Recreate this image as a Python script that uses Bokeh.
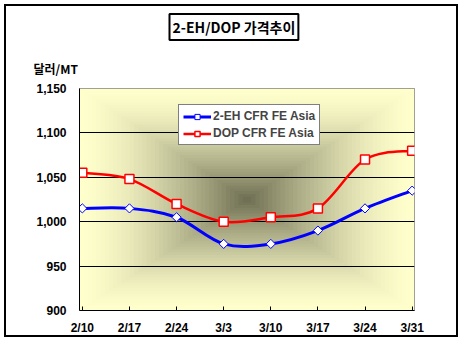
import numpy as np
from bokeh.plotting import figure
from bokeh.models import (Range1d, FixedTicker, NumeralTickFormatter, Title,
                          Legend, LegendItem, ColumnDataSource)
from bokeh.embed import file_html
from bokeh.resources import INLINE

# ---- data ----
categories = ["2/10", "2/17", "2/24", "3/3", "3/10", "3/17", "3/24", "3/31"]
eh_values = [1015, 1015, 1005, 975, 975, 990, 1015, 1035]
dop_values = [1055, 1048, 1020, 1000, 1005, 1015, 1070, 1080]
y_ticks = [900, 950, 1000, 1050, 1100, 1150]
series_names = ["2-EH CFR FE Asia", "DOP CFR FE Asia"]
title_text = "2-EH/DOP 가격추이"
unit_text = "달러/MT"

X0, X1 = -0.06, 7.05
Y0, Y1 = 900, 1150
FONT = "Liberation Sans"
KFONT = "Noto Sans CJK KR"

p = figure(width=454, height=333, x_range=Range1d(X0, X1), y_range=Range1d(Y0, Y1),
           output_backend="svg", toolbar_location=None,
           min_border_left=73, min_border_right=46, min_border_top=82, min_border_bottom=29)
p.title.visible = False
p.styles = {"border": "2px solid black", "margin": "4px 0 0 4px"}
p.background_fill_color = "#FFFFCC"
p.border_fill_color = "white"
p.outline_line_color = "#808080"
p.outline_line_width = 1

# ---- gradient background (rectangular from center) ----
edge = np.array([255, 255, 204], dtype=float)
center = np.array([112, 112, 84], dtype=float)
N = 40
xc, yc = (X0 + X1) / 2, (Y0 + Y1) / 2
hw, hh = (X1 - X0) / 2, (Y1 - Y0) / 2
lefts, rights, tops, bottoms, colors = [], [], [], [], []
for k in range(N):
    s = 1 - k / N
    t = (k / (N - 1)) ** 1.5
    c = edge * (1 - t) + center * t
    lefts.append(xc - s * hw)
    rights.append(xc + s * hw)
    bottoms.append(yc - s * hh)
    tops.append(yc + s * hh)
    colors.append("#%02x%02x%02x" % tuple(int(round(v)) for v in c))
p.quad(left=lefts, right=rights, top=tops, bottom=bottoms, fill_color=colors,
       line_color=None, level="image")

# ---- axes ----
p.xgrid.visible = False
p.ygrid.ticker = FixedTicker(ticks=y_ticks[1:-1])
p.ygrid.grid_line_color = "black"
p.ygrid.grid_line_width = 1

p.yaxis.ticker = FixedTicker(ticks=y_ticks)
p.yaxis.formatter = NumeralTickFormatter(format="0,0")
p.yaxis.major_tick_in = 0
p.yaxis.major_tick_out = 0
p.yaxis.minor_tick_line_color = None
p.yaxis.major_label_standoff = 13

p.xaxis.ticker = FixedTicker(ticks=list(range(len(categories))))
p.xaxis.major_label_overrides = {i: c for i, c in enumerate(categories)}
p.xaxis.major_tick_in = 4
p.xaxis.major_tick_out = 0
p.xaxis.minor_tick_line_color = None
p.xaxis.major_label_standoff = 10

for ax in (p.xaxis, p.yaxis):
    ax.axis_line_color = "black"
    ax.axis_line_width = 1
    ax.major_tick_line_color = "black"
    ax.major_label_text_font = FONT
    ax.major_label_text_font_style = "bold"
    ax.major_label_text_font_size = "12px"
    ax.major_label_text_color = "black"


# ---- smooth lines (Catmull-Rom as bezier) ----
def bezier_source(xs, ys):
    xs = np.asarray(xs, float)
    ys = np.asarray(ys, float)
    n = len(xs)
    d = dict(x0=[], y0=[], x1=[], y1=[], cx0=[], cy0=[], cx1=[], cy1=[])
    for i in range(n - 1):
        im = max(i - 1, 0)
        ip2 = min(i + 2, n - 1)
        d["x0"].append(xs[i]); d["y0"].append(ys[i])
        d["x1"].append(xs[i + 1]); d["y1"].append(ys[i + 1])
        d["cx0"].append(xs[i] + (xs[i + 1] - xs[im]) / 6)
        d["cy0"].append(ys[i] + (ys[i + 1] - ys[im]) / 6)
        d["cx1"].append(xs[i + 1] - (xs[ip2] - xs[i]) / 6)
        d["cy1"].append(ys[i + 1] - (ys[ip2] - ys[i]) / 6)
    return ColumnDataSource(d)


xs = list(range(len(categories)))

b1 = p.bezier("x0", "y0", "x1", "y1", "cx0", "cy0", "cx1", "cy1",
              source=bezier_source(xs, eh_values), line_color="#0000FF", line_width=3)
b2 = p.bezier("x0", "y0", "x1", "y1", "cx0", "cy0", "cx1", "cy1",
              source=bezier_source(xs, dop_values), line_color="#FF0000", line_width=2.5)

l1 = p.line(xs, eh_values, line_color="#0000FF", line_width=3, visible=False)
l2 = p.line(xs, dop_values, line_color="#FF0000", line_width=2.5, visible=False)

m1 = p.scatter(xs, eh_values, marker="square", angle=np.pi / 4, size=6.5,
               fill_color="white", line_color="#0000FF", line_width=1)
m2 = p.scatter(xs, dop_values, marker="square", size=9,
               fill_color="white", line_color="#FF0000", line_width=1.5)

legend = Legend(items=[LegendItem(label=series_names[0], renderers=[l1, m1]),
                       LegendItem(label=series_names[1], renderers=[l2, m2])],
                location=(99, 165))
legend.border_line_color = "black"
legend.border_line_width = 1
legend.background_fill_color = "white"
legend.background_fill_alpha = 1
legend.padding = 4
legend.spacing = 3
legend.margin = 0
legend.glyph_width = 28
legend.glyph_height = 13
legend.label_height = 13
legend.label_standoff = 2
legend.label_text_font = FONT
legend.label_text_font_style = "bold"
legend.label_text_font_size = "12px"
p.add_layout(legend, "center")

# ---- unit label and title box as titles above the frame ----
unit_title = Title(text=unit_text, align="left", offset=-46, standoff=24,
                   text_font=KFONT, text_font_style="bold", text_font_size="12px",
                   text_color="black")
main_title = Title(text=title_text, align="left", offset=90, standoff=11,
                   text_font=KFONT, text_font_style="bold", text_font_size="14px",
                   text_color="black", background_fill_color="white",
                   border_line_color="black", border_line_width=2, padding=3)
p.add_layout(unit_title, "above")
p.add_layout(main_title, "above")

open("out.html", "w").write(file_html(p, INLINE))
